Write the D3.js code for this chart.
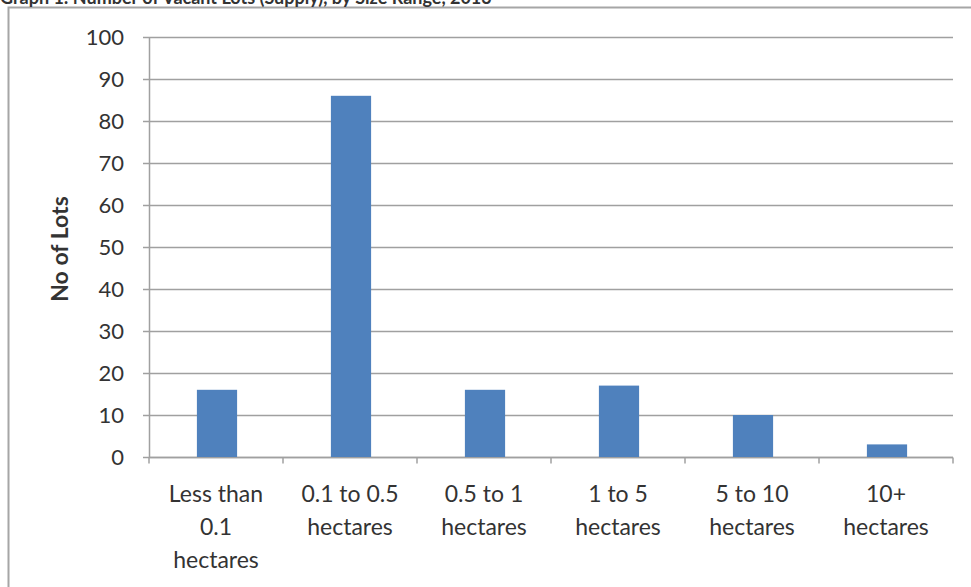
<!DOCTYPE html>
<html>
<head>
<meta charset="utf-8">
<script src="https://cdn.jsdelivr.net/npm/d3@7/dist/d3.min.js"></script>
<style>
  html, body { margin: 0; padding: 0; background: #fff; }
  svg { display: block; }
  text { font-family: Lato, "Open Sans", sans-serif; fill: #333; }
</style>
</head>
<body>
<svg id="chart" width="971" height="587"></svg>
<script>
// Vacant lots by size range
const categories = [
  ["Less than", "0.1", "hectares"],
  ["0.1 to 0.5", "hectares"],
  ["0.5 to 1", "hectares"],
  ["1 to 5", "hectares"],
  ["5 to 10", "hectares"],
  ["10+", "hectares"]
];
const lots = [16, 86, 16, 17, 10, 3];
const yTicks = [0, 10, 20, 30, 40, 50, 60, 70, 80, 90, 100];
const chartTitle = "Graph 1: Number of Vacant Lots (Supply), by Size Range, 2013";
const yTitle = "No of Lots";

const W = 971, H = 587;
const plot = { left: 149, right: 953, top: 37, bottom: 457 };
const fontFamily = "Lato, 'Open Sans', sans-serif";

const svg = d3.select("#chart");

// chart frame
svg.append("rect")
  .attr("x", 8.5).attr("y", 7.5)
  .attr("width", W + 20).attr("height", H + 20)
  .attr("fill", "#fff")
  .attr("stroke", "#a6a6a6").attr("stroke-width", 2);

// title, running off the top edge
svg.append("text")
  .attr("x", 0).attr("y", 4)
  .attr("font-size", 18).attr("font-weight", "bold")
  .attr("fill", "#444")
  .text(chartTitle);

const keys = categories.map((c, i) => i);
const x = d3.scaleBand().domain(keys).range([plot.left, plot.right]).paddingInner(0).paddingOuter(0);
const y = d3.scaleLinear().domain([0, 100]).range([plot.bottom, plot.top]);

// gridlines
svg.append("g")
  .selectAll("line")
  .data(yTicks)
  .join("line")
  .attr("x1", plot.left - 6).attr("x2", plot.right)
  .attr("y1", d => Math.round(y(d)) + 0.5).attr("y2", d => Math.round(y(d)) + 0.5)
  .attr("stroke", "#a0a0a0").attr("stroke-width", 1.5);

// y axis
const yAxis = svg.append("g")
  .attr("transform", `translate(${plot.left},0)`)
  .call(d3.axisLeft(y).tickValues(yTicks).tickSize(0).tickPadding(25));
yAxis.select(".domain").attr("stroke", "#a0a0a0").attr("stroke-width", 1.5);
yAxis.selectAll("text").attr("font-size", 22).attr("fill", "#333")
  .style("font-family", fontFamily);

// x axis baseline and category ticks
const xAxis = svg.append("g")
  .attr("transform", `translate(0,${Math.round(y(0)) + 0.5})`);
xAxis.append("line")
  .attr("x1", plot.left).attr("x2", plot.right)
  .attr("stroke", "#a0a0a0").attr("stroke-width", 1.5);
xAxis.selectAll("line.tick")
  .data(keys.map(k => x(k)).concat([plot.right]))
  .join("line")
  .attr("class", "tick")
  .attr("x1", d => d).attr("x2", d => d)
  .attr("y1", 0).attr("y2", 6)
  .attr("stroke", "#a0a0a0").attr("stroke-width", 1.5);

// category labels
const lab = svg.append("g")
  .selectAll("text")
  .data(categories)
  .join("text")
  .attr("text-anchor", "middle")
  .attr("font-size", 23)
  .attr("x", (d, i) => x(i) + x.bandwidth() / 2);
lab.selectAll("tspan")
  .data(d => d)
  .join("tspan")
  .attr("x", function() { return d3.select(this.parentNode).attr("x"); })
  .attr("y", (d, j) => 502 + j * 33)
  .text(d => d);

// bars
const barW = x.bandwidth() * 0.3;
svg.append("g")
  .selectAll("rect")
  .data(lots)
  .join("rect")
  .attr("x", (d, i) => x(i) + x.bandwidth() / 2 - barW / 2 + 1)
  .attr("width", barW)
  .attr("y", d => y(d))
  .attr("height", d => y(0) - y(d))
  .attr("fill", "#4f81bd");

// y axis title
svg.append("text")
  .attr("transform", `translate(68,${(plot.top + plot.bottom) / 2 + 2}) rotate(-90)`)
  .attr("text-anchor", "middle")
  .attr("font-size", 23).attr("font-weight", "bold")
  .attr("fill", "#222")
  .text(yTitle);
</script>
</body>
</html>
